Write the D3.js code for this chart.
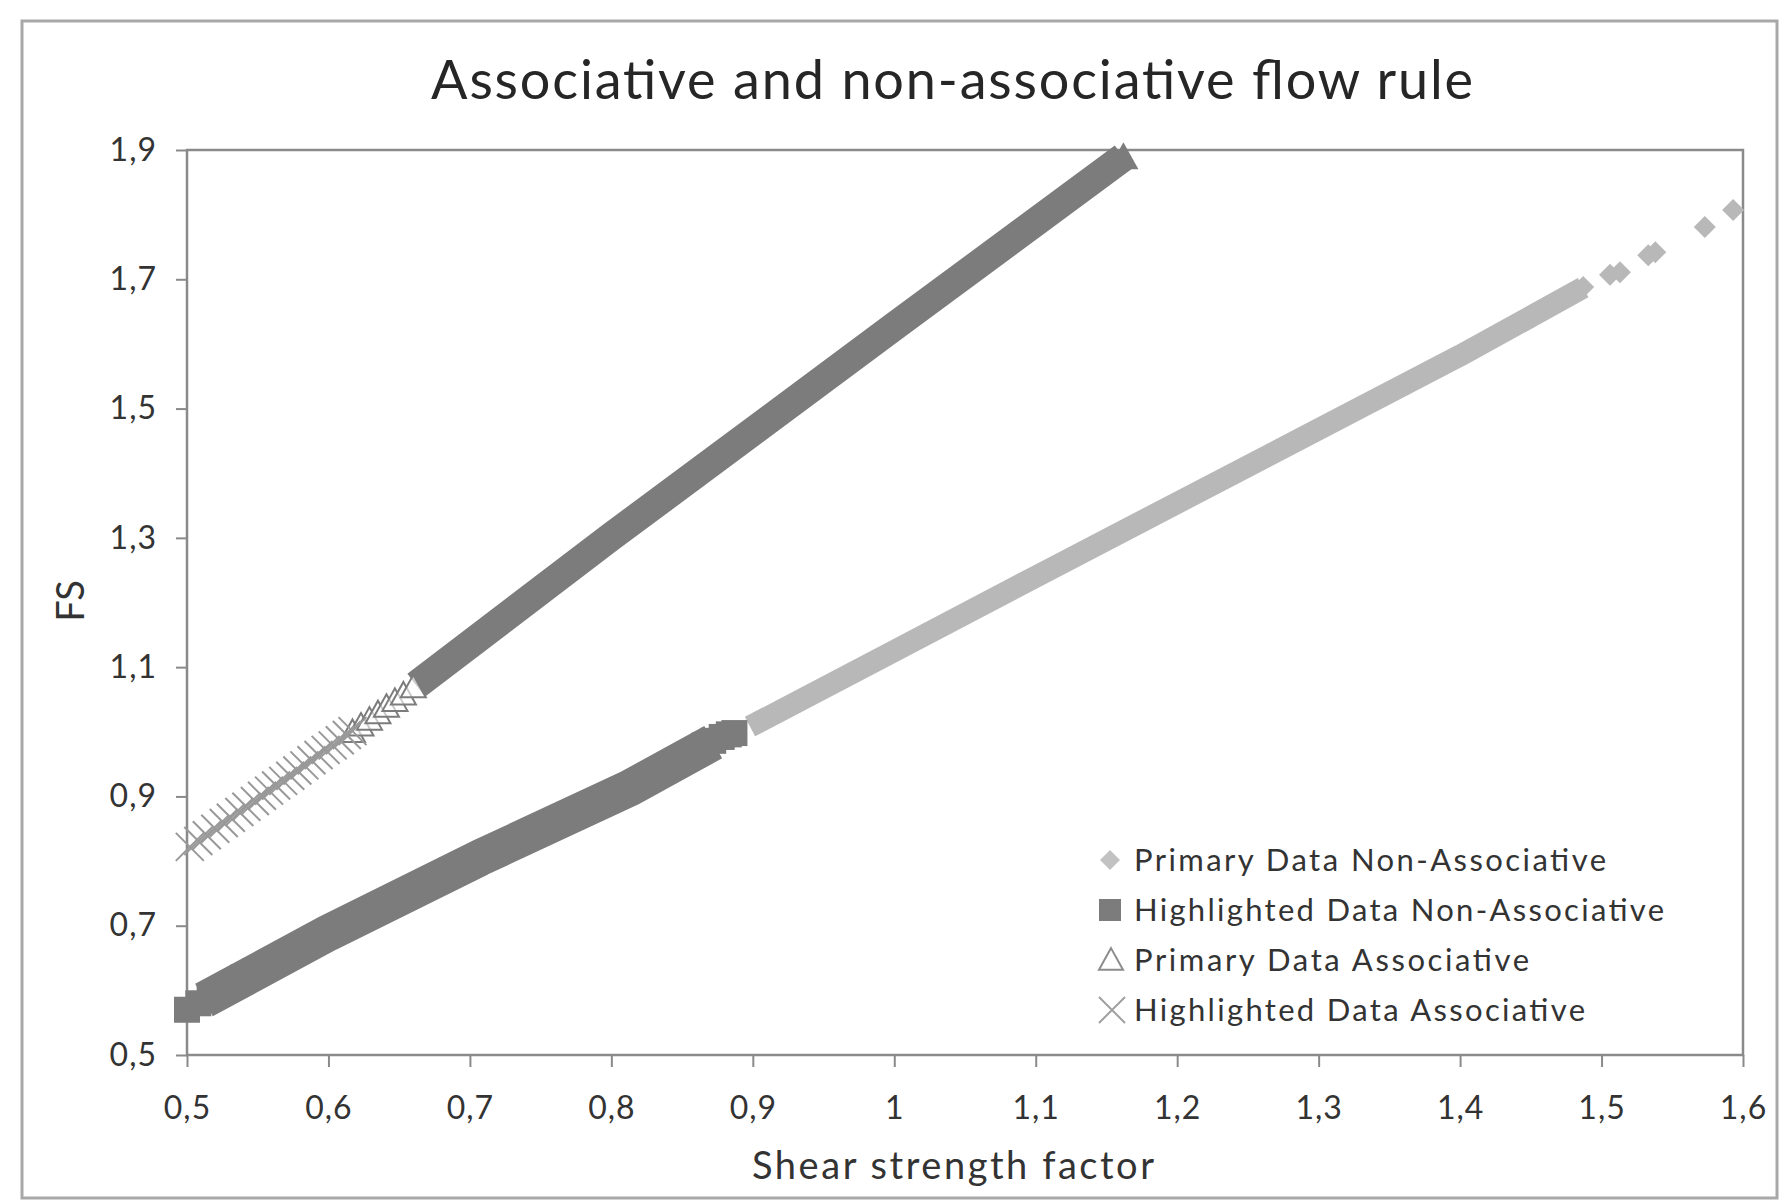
<!DOCTYPE html>
<html>
<head>
<meta charset="utf-8">
<script src="https://cdn.jsdelivr.net/npm/d3@7/dist/d3.min.js"></script>
<style>
  body { margin: 0; background: #fff; }
  svg text { font-family: Lato, "Open Sans", sans-serif; fill: #333; }
</style>
</head>
<body>
<svg id="chart" width="1779" height="1200"></svg>
<script>
// ---- data ----
const xTicks = [0.5, 0.6, 0.7, 0.8, 0.9, 1.0, 1.1, 1.2, 1.3, 1.4, 1.5, 1.6];
const yTicks = [0.5, 0.7, 0.9, 1.1, 1.3, 1.5, 1.7, 1.9];

// Primary Data Non-Associative (light diamonds), dense run then sparse tail
const primNonX = [0.898, 1.0, 1.1, 1.2, 1.3, 1.4, 1.487];
const primNonY = [1.008, 1.125, 1.240, 1.354, 1.468, 1.582, 1.687];
const primNonTailX = [1.487, 1.506, 1.513, 1.533, 1.538, 1.573, 1.593];
const primNonTailY = [1.688, 1.707, 1.711, 1.737, 1.742, 1.781, 1.807];

// Highlighted Data Non-Associative (dark squares)
const highNonX = [0.512, 0.6, 0.707, 0.813, 0.872];
const highNonY = [0.585, 0.689, 0.805, 0.913, 0.984];
const highNonSqX = [0.5, 0.508, 0.516, 0.524, 0.532, 0.540, 0.548, 0.866, 0.872, 0.878, 0.883, 0.887];
const highNonSqY = [0.570, 0.580, 0.590, 0.600, 0.610, 0.620, 0.629, 0.979, 0.986, 0.992, 0.996, 0.998];

// Primary Data Associative (open triangles), sparse start then dense run
const primAsX = [0.617, 0.623, 0.629, 0.635, 0.641, 0.647, 0.653, 0.660];
const primAsY = [1.000, 1.010, 1.019, 1.029, 1.039, 1.048, 1.058, 1.069];
const primAsRunX = [0.662, 0.8, 1.0, 1.162];
const primAsRunY = [1.072, 1.302, 1.627, 1.889];

// Highlighted Data Associative (x marks)
const highAsX = [0.502, 0.508, 0.514, 0.520, 0.526, 0.531, 0.537, 0.542, 0.548, 0.553, 0.558, 0.563,
                 0.568, 0.573, 0.578, 0.583, 0.588, 0.593, 0.598, 0.603, 0.608, 0.613, 0.617];
const highAsY = [0.822, 0.831, 0.840, 0.850, 0.859, 0.867, 0.876, 0.884, 0.893, 0.901, 0.909, 0.917,
                 0.924, 0.932, 0.940, 0.948, 0.956, 0.964, 0.972, 0.979, 0.987, 0.995, 1.001];

const legendLabels = ["Primary Data Non-Associative", "Highlighted Data Non-Associative",
                      "Primary Data Associative", "Highlighted Data Associative"];

// ---- layout ----
const svg = d3.select("#chart");
const W = 1779, H = 1200;
const L = 187, R = 1743, T = 150, B = 1055;

const DARK = "#7c7c7c";
const LIGHT = "#b8b8b8";
const AXIS = "#8a8a8a";

const x = d3.scaleLinear().domain([0.5, 1.6]).range([L, R]);
const y = d3.scaleLinear().domain([0.5, 1.9]).range([B, T]);

const fmt = d => (Math.round(d * 10) / 10).toString().replace(".", ",");
const pts = (xs, ys) => xs.map((v, i) => [v, ys[i]]);

// outer chart border
svg.append("rect")
  .attr("x", 22).attr("y", 21)
  .attr("width", W - 22 - 2).attr("height", H - 21 - 2)
  .attr("fill", "#fff")
  .attr("stroke", "#a8a8a8")
  .attr("stroke-width", 3);

// title
svg.append("text")
  .attr("x", 952).attr("y", 99)
  .attr("text-anchor", "middle")
  .attr("font-size", 54)
  .attr("textLength", 1042)
  .attr("lengthAdjust", "spacing")
  .style("fill", "#262626")
  .text("Associative and non-associative flow rule");

// axes
const xAxis = svg.append("g")
  .attr("transform", `translate(0,${B})`)
  .call(d3.axisBottom(x).tickValues(xTicks).tickFormat(fmt).tickSize(12).tickPadding(29));
const yAxis = svg.append("g")
  .attr("transform", `translate(${L},0)`)
  .call(d3.axisLeft(y).tickValues(yTicks).tickFormat(fmt).tickSize(11).tickPadding(19));

[xAxis, yAxis].forEach(g => {
  g.select(".domain").remove();
  g.selectAll(".tick line").attr("stroke", AXIS).attr("stroke-width", 2);
  g.selectAll(".tick text")
    .attr("font-size", 32)
    .attr("letter-spacing", 1)
    .style("font-family", "Lato, sans-serif")
    .style("fill", "#333");
});

// plot frame
svg.append("rect")
  .attr("x", L).attr("y", T)
  .attr("width", R - L).attr("height", B - T)
  .attr("fill", "none")
  .attr("stroke", AXIS)
  .attr("stroke-width", 2.5);

// axis titles
svg.append("text")
  .attr("transform", `translate(84,601) rotate(-90)`)
  .attr("text-anchor", "middle")
  .attr("font-size", 38)
  .text("FS");

svg.append("text")
  .attr("x", 953).attr("y", 1179)
  .attr("text-anchor", "middle")
  .attr("font-size", 38)
  .attr("textLength", 402)
  .attr("lengthAdjust", "spacing")
  .text("Shear strength factor");

// marker shapes
const diamond = d => `M0,${-d}L${d},0L0,${d}L${-d},0Z`;
const triangle = w => { const h = w * 0.9; return `M0,${-h * 0.55}L${w / 2},${h * 0.45}L${-w / 2},${h * 0.45}Z`; };
const cross = s => `M${-s},${-s}L${s},${s}M${-s},${s}L${s},${-s}`;

const line = d3.line().x(d => x(d[0])).y(d => y(d[1]));
const marks = svg.append("g");

// Primary Non-Associative: dense run + sparse diamonds
marks.append("path")
  .datum(pts(primNonX, primNonY))
  .attr("d", line)
  .attr("fill", "none")
  .attr("stroke", LIGHT)
  .attr("stroke-width", 22)
  .attr("stroke-linejoin", "round");
marks.selectAll(".pn").data(pts(primNonTailX, primNonTailY)).join("path")
  .attr("class", "pn")
  .attr("transform", d => `translate(${x(d[0])},${y(d[1])})`)
  .attr("d", diamond(11))
  .attr("fill", LIGHT);

// Highlighted Non-Associative: squares
marks.append("path")
  .datum(pts(highNonX, highNonY))
  .attr("d", line)
  .attr("fill", "none")
  .attr("stroke", DARK)
  .attr("stroke-width", 37)
  .attr("stroke-linejoin", "round");
marks.selectAll(".hn").data(pts(highNonSqX, highNonSqY)).join("rect")
  .attr("class", "hn")
  .attr("x", d => x(d[0]) - 13).attr("y", d => y(d[1]) - 13)
  .attr("width", 26).attr("height", 26)
  .attr("fill", DARK);

// Primary Associative: dense run of triangles + sparse open triangles
marks.append("path")
  .datum(pts(primAsRunX, primAsRunY))
  .attr("d", line)
  .attr("fill", "none")
  .attr("stroke", DARK)
  .attr("stroke-width", 29);
marks.append("path")
  .attr("transform", `translate(${x(primAsRunX[primAsRunX.length - 1])},${y(primAsRunY[primAsRunY.length - 1])})`)
  .attr("d", triangle(30))
  .attr("fill", DARK);
marks.selectAll(".pa").data(pts(primAsX, primAsY)).join("path")
  .attr("class", "pa")
  .attr("transform", d => `translate(${x(d[0])},${y(d[1])})`)
  .attr("d", triangle(25))
  .attr("fill", "#fff")
  .attr("fill-opacity", 0.6)
  .attr("stroke", DARK)
  .attr("stroke-width", 2);

// Highlighted Associative: x marks
marks.selectAll(".ha").data(pts(highAsX, highAsY)).join("path")
  .attr("class", "ha")
  .attr("transform", d => `translate(${x(d[0])},${y(d[1])})`)
  .attr("d", cross(14))
  .attr("fill", "none")
  .attr("stroke", "#999")
  .attr("stroke-width", 2);

// legend
const lg = svg.append("g");
const rowY = [860, 910, 960, 1010];
const textW = [472, 530, 395, 451];
legendLabels.forEach((name, i) => {
  const cy = rowY[i];
  if (i === 0) lg.append("path").attr("transform", `translate(1110,${cy})`).attr("d", diamond(10)).attr("fill", "#c2c2c2");
  if (i === 1) lg.append("rect").attr("x", 1099).attr("y", cy - 11).attr("width", 22).attr("height", 22).attr("fill", DARK);
  if (i === 2) lg.append("path").attr("transform", `translate(1111,${cy})`).attr("d", triangle(24))
    .attr("fill", "none").attr("stroke", "#8c8c8c").attr("stroke-width", 2);
  if (i === 3) lg.append("path").attr("transform", `translate(1112,${cy})`).attr("d", cross(13))
    .attr("fill", "none").attr("stroke", "#a0a0a0").attr("stroke-width", 2);
  lg.append("text")
    .attr("x", 1134).attr("y", cy)
    .attr("dy", "0.36em")
    .attr("font-size", 31)
    .attr("textLength", textW[i])
    .attr("lengthAdjust", "spacing")
    .text(name);
});
</script>
</body>
</html>
